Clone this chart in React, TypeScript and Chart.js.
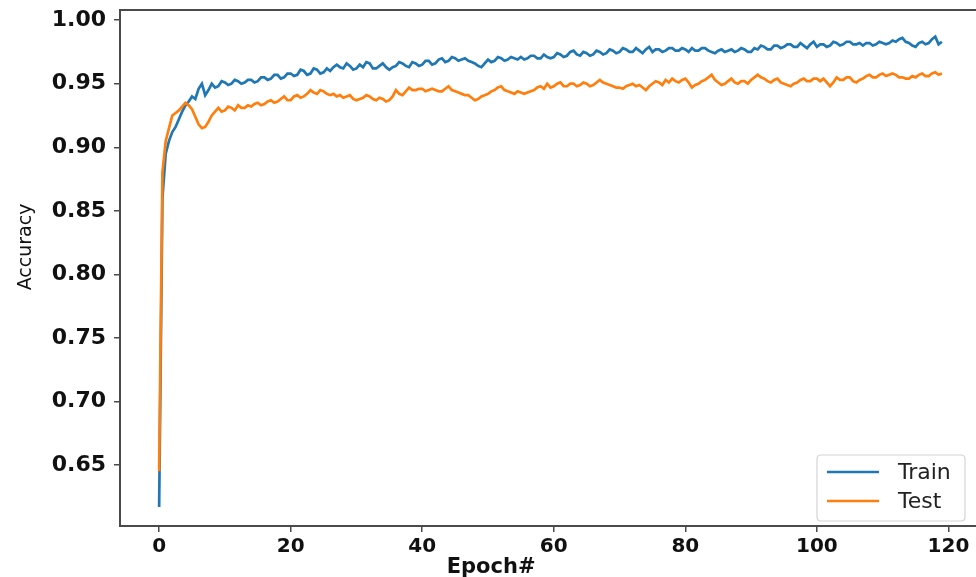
import React, { useEffect, useRef } from "react";
import { Chart, registerables } from "chart.js";

Chart.register(...registerables);

// half-epoch samples: 0, 0.5, 1, ..., 119
const epochs: number[] = Array.from({ length: 239 }, (_, i) => i / 2);

const trainAcc: number[] = [
  0.617, 0.860, 0.895, 0.905, 0.912, 0.916, 0.922, 0.928, 0.933, 0.936,
  0.940, 0.938, 0.946, 0.950, 0.941, 0.945, 0.950, 0.947, 0.948, 0.952,
  0.951, 0.949, 0.950, 0.953, 0.952, 0.950, 0.951, 0.953, 0.953, 0.951,
  0.952, 0.955, 0.955, 0.953, 0.954, 0.957, 0.957, 0.954, 0.955, 0.958,
  0.958, 0.956, 0.957, 0.961, 0.960, 0.957, 0.958, 0.962, 0.961, 0.958,
  0.959, 0.962, 0.960, 0.963, 0.965, 0.963, 0.962, 0.966, 0.964, 0.961,
  0.962, 0.965, 0.963, 0.967, 0.966, 0.962, 0.962, 0.964, 0.966, 0.963,
  0.961, 0.963, 0.964, 0.967, 0.966, 0.964, 0.963, 0.967, 0.966, 0.964,
  0.965, 0.968, 0.968, 0.965, 0.966, 0.969, 0.970, 0.967, 0.968, 0.971,
  0.970, 0.968, 0.969, 0.970, 0.968, 0.967, 0.966, 0.964, 0.963, 0.966,
  0.969, 0.967, 0.968, 0.971, 0.970, 0.968, 0.969, 0.971, 0.970, 0.969,
  0.971, 0.969, 0.970, 0.972, 0.972, 0.970, 0.970, 0.973, 0.971, 0.970,
  0.971, 0.974, 0.973, 0.971, 0.972, 0.975, 0.976, 0.973, 0.972, 0.975,
  0.974, 0.972, 0.973, 0.976, 0.975, 0.973, 0.974, 0.977, 0.976, 0.974,
  0.975, 0.978, 0.977, 0.975, 0.975, 0.978, 0.976, 0.974, 0.977, 0.979,
  0.975, 0.977, 0.977, 0.975, 0.976, 0.978, 0.978, 0.976, 0.976, 0.978,
  0.977, 0.975, 0.978, 0.976, 0.976, 0.978, 0.978, 0.976, 0.975, 0.974,
  0.976, 0.977, 0.975, 0.976, 0.977, 0.975, 0.976, 0.978, 0.977, 0.975,
  0.975, 0.978, 0.977, 0.980, 0.979, 0.977, 0.977, 0.980, 0.980, 0.978,
  0.979, 0.981, 0.981, 0.979, 0.979, 0.982, 0.980, 0.978, 0.981, 0.983,
  0.979, 0.981, 0.981, 0.979, 0.980, 0.983, 0.982, 0.980, 0.981, 0.983,
  0.983, 0.981, 0.981, 0.982, 0.980, 0.982, 0.982, 0.980, 0.981, 0.983,
  0.982, 0.981, 0.982, 0.984, 0.983, 0.985, 0.986, 0.983, 0.982, 0.980,
  0.979, 0.982, 0.983, 0.981, 0.982, 0.985, 0.987, 0.981, 0.983,
];

const testAcc: number[] = [
  0.645, 0.880, 0.905, 0.915, 0.925, 0.927, 0.929, 0.932, 0.935, 0.933,
  0.930, 0.924, 0.918, 0.915, 0.916, 0.920, 0.925, 0.928, 0.931, 0.928,
  0.929, 0.932, 0.931, 0.929, 0.933, 0.931, 0.931, 0.933, 0.932, 0.934,
  0.935, 0.933, 0.934, 0.936, 0.937, 0.935, 0.936, 0.938, 0.940, 0.937,
  0.937, 0.940, 0.941, 0.939, 0.940, 0.942, 0.945, 0.943, 0.942, 0.945,
  0.944, 0.942, 0.941, 0.942, 0.940, 0.941, 0.939, 0.940, 0.941, 0.938,
  0.937, 0.938, 0.939, 0.941, 0.940, 0.938, 0.937, 0.939, 0.938, 0.936,
  0.937, 0.940, 0.945, 0.942, 0.941, 0.944, 0.947, 0.945, 0.945, 0.946,
  0.946, 0.944, 0.945, 0.946, 0.945, 0.944, 0.944, 0.946, 0.948, 0.945,
  0.944, 0.943, 0.942, 0.941, 0.941, 0.939, 0.937, 0.938, 0.940, 0.941,
  0.942, 0.944, 0.945, 0.947, 0.948, 0.945, 0.944, 0.943, 0.942, 0.944,
  0.943, 0.942, 0.943, 0.944, 0.945, 0.947, 0.948, 0.946, 0.950, 0.947,
  0.948, 0.950, 0.951, 0.948, 0.948, 0.950, 0.950, 0.948, 0.949, 0.951,
  0.950, 0.948, 0.949, 0.951, 0.953, 0.951, 0.950, 0.949, 0.948, 0.947,
  0.947, 0.946, 0.948, 0.949, 0.950, 0.948, 0.949, 0.947, 0.945, 0.948,
  0.950, 0.952, 0.951, 0.949, 0.953, 0.951, 0.954, 0.952, 0.951, 0.953,
  0.954, 0.951, 0.947, 0.949, 0.950, 0.952, 0.953, 0.955, 0.957, 0.953,
  0.951, 0.949, 0.950, 0.952, 0.954, 0.951, 0.950, 0.952, 0.952, 0.950,
  0.953, 0.955, 0.957, 0.955, 0.954, 0.952, 0.951, 0.953, 0.954, 0.951,
  0.950, 0.949, 0.948, 0.950, 0.951, 0.953, 0.954, 0.952, 0.952, 0.954,
  0.954, 0.952, 0.954, 0.951, 0.948, 0.951, 0.955, 0.953, 0.953, 0.955,
  0.955, 0.952, 0.951, 0.953, 0.954, 0.956, 0.957, 0.955, 0.955, 0.957,
  0.958, 0.956, 0.957, 0.958, 0.957, 0.955, 0.955, 0.954, 0.954, 0.956,
  0.955, 0.957, 0.958, 0.956, 0.956, 0.958, 0.959, 0.957, 0.958,
];

const xTicks: number[] = [0, 20, 40, 60, 80, 100, 120];
const yTicks: number[] = [0.65, 0.7, 0.75, 0.8, 0.85, 0.9, 0.95, 1.0];

const seriesLabels = ["Train", "Test"];
const seriesColors = ["#1f77b4", "#ff7f0e"];
const xTitle = "Epoch#";
const yTitle = "Accuracy";

const SPINE = "#4a4a4a";

export default function App() {
  const ref = useRef<HTMLCanvasElement | null>(null);

  useEffect(() => {
    document.body.style.margin = "0";
    const canvas = ref.current;
    if (!canvas) return;

    const framePlugin = {
      id: "frameAndLabels",
      beforeDraw(chart: any) {
        const ctx = chart.ctx;
        ctx.save();
        ctx.fillStyle = "#ffffff";
        ctx.fillRect(0, 0, chart.width, chart.height);
        ctx.restore();
      },
      afterDraw(chart: any) {
        const ctx = chart.ctx;
        const a = chart.chartArea;
        ctx.save();
        ctx.strokeStyle = SPINE;
        ctx.lineWidth = 2;
        ctx.strokeRect(a.left, a.top, a.right - a.left, a.bottom - a.top);

        ctx.fillStyle = "#111";
        ctx.font = "bold 21px 'DejaVu Sans'";
        ctx.textAlign = "center";
        ctx.textBaseline = "alphabetic";
        ctx.fillText(xTitle, a.left + (a.right - a.left) * 0.431, a.bottom + 47);

        ctx.save();
        ctx.translate(31, 247);
        ctx.rotate(-Math.PI / 2);
        ctx.font = "19px 'DejaVu Sans'";
        ctx.textAlign = "center";
        ctx.textBaseline = "alphabetic";
        ctx.fillText(yTitle, 0, 0);
        ctx.restore();

        const bw = 148;
        const bh = 66;
        const bx = a.right - 16 - bw;
        const by = a.bottom - 5 - bh;
        const r = 4;
        ctx.beginPath();
        ctx.moveTo(bx + r, by);
        ctx.lineTo(bx + bw - r, by);
        ctx.quadraticCurveTo(bx + bw, by, bx + bw, by + r);
        ctx.lineTo(bx + bw, by + bh - r);
        ctx.quadraticCurveTo(bx + bw, by + bh, bx + bw - r, by + bh);
        ctx.lineTo(bx + r, by + bh);
        ctx.quadraticCurveTo(bx, by + bh, bx, by + bh - r);
        ctx.lineTo(bx, by + r);
        ctx.quadraticCurveTo(bx, by, bx + r, by);
        ctx.closePath();
        ctx.fillStyle = "rgba(255,255,255,0.85)";
        ctx.fill();
        ctx.strokeStyle = "#d4d4d4";
        ctx.lineWidth = 1.2;
        ctx.stroke();

        chart.data.datasets.forEach((ds: any, i: number) => {
          const ly = by + 17 + i * 29;
          ctx.strokeStyle = ds.borderColor;
          ctx.lineWidth = 2.5;
          ctx.beginPath();
          ctx.moveTo(bx + 10, ly);
          ctx.lineTo(bx + 62, ly);
          ctx.stroke();
          ctx.fillStyle = "#222";
          ctx.font = "22px 'DejaVu Sans'";
          ctx.textAlign = "left";
          ctx.textBaseline = "middle";
          ctx.fillText(ds.label, bx + 81, ly + 1);
        });
        ctx.restore();
      },
    };

    const chart = new Chart(canvas, {
      type: "line",
      data: {
        datasets: [
          {
            label: seriesLabels[0],
            data: epochs.map((e, i) => ({ x: e, y: trainAcc[i] })),
            borderColor: seriesColors[0],
            backgroundColor: seriesColors[0],
            borderWidth: 2.7,
            pointRadius: 0,
            tension: 0,
            order: 1,
          },
          {
            label: seriesLabels[1],
            data: epochs.map((e, i) => ({ x: e, y: testAcc[i] })),
            borderColor: seriesColors[1],
            backgroundColor: seriesColors[1],
            borderWidth: 2.7,
            pointRadius: 0,
            tension: 0,
            order: 0,
          },
        ],
      },
      options: {
        animation: false,
        responsive: false,
        maintainAspectRatio: false,
        devicePixelRatio: 1,
        layout: { padding: { top: 10, right: 5, bottom: 0, left: 0 } },
        plugins: {
          legend: { display: false },
          tooltip: { enabled: false },
        },
        scales: {
          x: {
            type: "linear",
            min: -5.95,
            max: 124.95,
            afterBuildTicks: (axis: any) => {
              axis.ticks = xTicks.map((v) => ({ value: v }));
            },
            afterFit: (axis: any) => {
              axis.height = 51;
              axis.paddingLeft = 0;
              axis.paddingRight = 0;
            },
            ticks: {
              color: "#111",
              font: { family: "'DejaVu Sans'", size: 20, weight: "bold" },
              padding: 3,
              maxRotation: 0,
              autoSkip: false,
              callback: (v: any) => String(v),
            },
            grid: {
              drawOnChartArea: false,
              drawTicks: true,
              tickLength: 6,
              color: SPINE,
              lineWidth: 1.5,
            },
            border: { display: false },
          },
          y: {
            type: "linear",
            min: 0.602,
            max: 1.008,
            afterBuildTicks: (axis: any) => {
              axis.ticks = yTicks.map((v) => ({ value: v }));
            },
            afterFit: (axis: any) => {
              axis.width = 120;
              axis.paddingTop = 0;
              axis.paddingBottom = 0;
            },
            ticks: {
              color: "#111",
              font: { family: "'DejaVu Sans'", size: 22, weight: "bold" },
              padding: 8,
              autoSkip: false,
              callback: (v: any) => Number(v).toFixed(2),
            },
            grid: {
              drawOnChartArea: false,
              drawTicks: true,
              tickLength: 6,
              color: SPINE,
              lineWidth: 1.5,
            },
            border: { display: false },
          },
        },
      },
      plugins: [framePlugin],
    });

    return () => chart.destroy();
  }, []);

  return (
    <div style={{ width: 976, height: 577, overflow: "hidden", position: "relative" }}>
      <canvas ref={ref} width={986} height={577} style={{ width: 986, height: 577, display: "block" }} />
    </div>
  );
}
